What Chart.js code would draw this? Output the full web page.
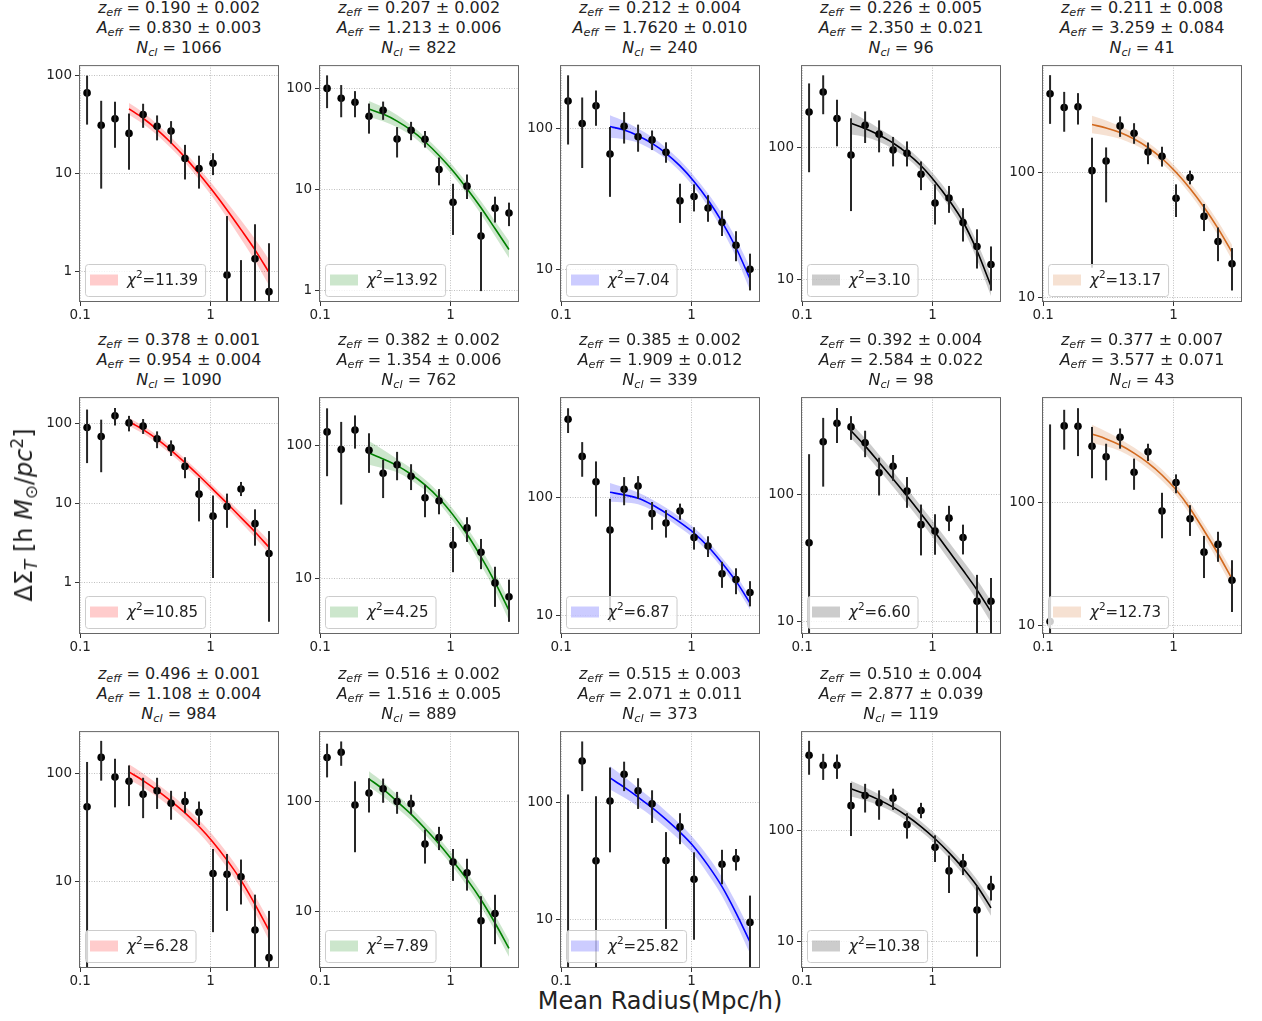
<!DOCTYPE html>
<html>
<head>
<meta charset="utf-8">
<title>Stacked lensing profiles</title>
<script src="https://cdn.jsdelivr.net/npm/chart.js@4.4.0/dist/chart.umd.min.js"></script>
<style>
  body { margin: 0; background: #fff; font-family: "DejaVu Sans", sans-serif; color: #222; }
  #fig { position: relative; width: 1262px; height: 1021px; overflow: hidden; }
  #fig canvas { position: absolute; }
  .title { position: absolute; width: 200px; text-align: center; font-size: 16px; line-height: 20px; white-space: nowrap; }
  .title sub, .ylab sub { font-size: 70%; vertical-align: -0.3em; line-height: 0; }
  .ylab sup { font-size: 70%; vertical-align: 0.55em; line-height: 0; }
  .xlab { position: absolute; left: 460px; width: 400px; top: 986px; text-align: center; font-size: 24px; line-height: 30px; }
  .ylab { position: absolute; left: 24px; top: 515px; font-size: 24px; white-space: nowrap; transform: translate(-50%, -50%) rotate(-90deg); z-index: 2; }
</style>
</head>
<body>
<div id="fig">
  <div class="ylab">ΔΣ<sub><i>T</i></sub> [h <i>M</i><sub>⊙</sub>/<i>pc</i><sup>2</sup>]</div>
  <div class="xlab">Mean Radius(Mpc/h)</div>
</div>
<script>
// radial bins (Mpc/h), shared by every panel
const radius = [0.113, 0.145, 0.185, 0.237, 0.304, 0.389, 0.498, 0.637, 0.816, 1.045, 1.338, 1.713, 2.193, 2.807];
// the fitted profile is only evaluated from the 4th bin outwards
const fitRadius = radius.slice(3);

const xTicks = [0.1, 1];
const yTicks = [1, 10, 100];

const zEff = ['0.190 ± 0.002', '0.207 ± 0.002', '0.212 ± 0.004', '0.226 ± 0.005', '0.211 ± 0.008',
              '0.378 ± 0.001', '0.382 ± 0.002', '0.385 ± 0.002', '0.392 ± 0.004', '0.377 ± 0.007',
              '0.496 ± 0.001', '0.516 ± 0.002', '0.515 ± 0.003', '0.510 ± 0.004'];
const aEff = ['0.830 ± 0.003', '1.213 ± 0.006', '1.7620 ± 0.010', '2.350 ± 0.021', '3.259 ± 0.084',
              '0.954 ± 0.004', '1.354 ± 0.006', '1.909 ± 0.012', '2.584 ± 0.022', '3.577 ± 0.071',
              '1.108 ± 0.004', '1.516 ± 0.005', '2.071 ± 0.011', '2.877 ± 0.039'];
const nCl = [1066, 822, 240, 96, 41, 1090, 762, 339, 98, 43, 984, 889, 373, 119];
const chi2 = ['11.39', '13.92', '7.04', '3.10', '13.17', '10.85', '4.25', '6.87', '6.60', '12.73', '6.28', '7.89', '25.82', '10.38'];

const yMin = [0.494, 0.764, 5.86, 6.82, 9.14, 0.228, 3.84, 6.92, 8.0, 8.53, 1.58, 3.11, 3.85, 5.75];
const yMax = [128, 172, 280, 418, 721, 215, 232, 720, 589, 730, 245, 433, 407, 778];

// measured Delta Sigma per bin; null = point falls below zero
const sigma = [
  [66.7, 31.2, 36.4, 25.8, 40.2, 30.5, 27.2, 14.3, 11.3, 12.8, 0.93, null, 1.36, 0.63],
  [101, 80.5, 73.6, 53.4, 61.1, 31.8, 38.7, 31.6, 15.8, 7.46, 10.8, 3.46, 6.53, 5.84],
  [156, 108, 144, 65.6, 103, 87, 82.6, 67.5, 30.6, 32.8, 27.2, 21.5, 14.8, 10.0],
  [185, 262, 165, 87.7, 147, 126, 95.6, 90.3, 62.8, 38.1, 41.5, 27.1, 17.9, 13.1],
  [425, 330, 334, 103, 123, 235, 205, 145, 134, 61.8, 90.8, 44.3, 27.9, 18.5],
  [89.4, 68.7, 125, 102, 92.8, 64.4, 49.5, 29, 13, 6.88, 9.1, 15.1, 5.54, 2.34],
  [127, 93.5, 131, 92.5, 62.1, 71.8, 59, 40.6, 38.6, 17.9, 24.1, 15.8, 9.3, 7.31],
  [467, 225, 137, 53.1, 118, 126, 73.3, 61, 77.1, 45.8, 38.9, 22.5, 20.1, 15.6],
  [41.9, 262, 366, 343, 257, 149, 168, 107, 58.2, 51.8, 65.5, 46, 14.5, 14.5],
  [10.8, 425, 422, 290, 238, 343, 178, 261, 85.9, 147, 74.3, 39.7, 45.9, 23.4],
  [48.9, 140, 92, 84.1, 63.7, 68.7, 52.8, 54.7, 43.5, 11.8, 11.6, 11.0, 3.55, 1.97],
  [250, 279, 92.8, 119, 130, 100, 95.4, 41.1, 47.1, 28.3, 22.6, 8.32, 9.66, null],
  [null, 226, 31.7, 103, 174, 126, 97.5, 31.9, 61.8, 22.1, null, 29.6, 33.0, 9.44],
  [472, 383, 383, 166, 205, 176, 194, 112, 150, 70, 43, 49.9, 19.1, 30.9]
];
// lower / upper end of each error bar; null low = bar runs off the bottom
const sigmaLow = [
  [31.7, 7.06, 18.4, 11.0, 29.4, 21.9, 20.3, 8.75, 7.06, 9.7, null, null, null, null],
  [64.3, 52.2, 52.2, 35.9, 49.2, 20.8, 30.9, 26.1, 11.0, 3.54, 8.05, 0.98, 4.7, 4.33],
  [76.6, 52.2, 104, 32.6, 77.8, 68.1, 70.0, 56.9, 21.3, 25.7, 21.7, 17.2, 11.4, 7.08],
  [65, 178, 102, 33.1, 108, 91.8, 71.9, 71.9, 47.6, 26.2, 32.1, 19.5, 12.2, 8.3],
  [244, 211, 241, 17.2, 57.4, 192, 169, 116, 111, 43.8, 80, 33.8, 19.4, 11.3],
  [31.9, 24.5, 94.6, 79.8, 74.1, 49.1, 39.2, 20.6, 5.91, 1.15, 4.91, 12.3, 2.93, 0.325],
  [59, 36.1, 95.1, 62.5, 40.4, 55.0, 46.4, 29.0, 30.5, 11.2, 18.9, 11.8, 6.14, 4.74],
  [356, 151, 69.2, 8.8, 86.4, 98.1, 53.4, 45.8, 65.0, 36.2, 31.3, 17.1, 15.1, 11.9],
  [null, 116, 256, 271, 198, 98.8, 129, 79, 33.3, 33.7, 51.8, 33.9, null, null],
  [null, 272, 241, 159, 153, 277, 128, 220, 51.5, 120, 53.8, 24.4, 33.1, 12.9],
  [null, 85.3, 48.3, 49.6, 38.4, 46.7, 37.1, 42.7, 33.2, 3.39, 5.33, 6.11, null, null],
  [165, 210, 34.7, 79.4, 97.3, 77.3, 76.7, 27.4, 36.3, 19.1, 15.6, null, 5.11, null],
  [null, 125, null, 37.5, 125, 88, 66.8, 8.3, 44.0, 6.71, null, 20.0, 26.2, null],
  [315, 283, 289, 88.5, 144, 124, 152, 83.9, 128, 51.7, 27.2, 39.4, 7.28, 23.3]
];
const sigmaHigh = [
  [100, 55.4, 54.2, 41.1, 51.7, 39.3, 34.4, 19.7, 15.3, 16.2, 3.71, 1.32, 3.06, 1.96],
  [136, 109, 94.9, 71.4, 74.7, 41.7, 47.0, 38.1, 20.8, 11.4, 14.1, 5.97, 8.49, 7.41],
  [237, 165, 185, 102, 130, 106, 96.3, 79.4, 40.4, 40.0, 33.5, 26.1, 18.6, 12.9],
  [304, 350, 229, 166, 187, 160, 120, 111, 78.4, 52.7, 51.2, 34.8, 24.1, 17.9],
  [599, 440, 430, 189, 158, 280, 247, 173, 160, 80, 103, 55.7, 36.1, 24.7],
  [150, 112, 157, 125, 114, 79.8, 61.5, 37.8, 20.8, 12.5, 13.2, 18.5, 8.38, 4.47],
  [191, 151, 169, 124, 78.2, 89.9, 72.6, 50.8, 47.2, 24.5, 29.0, 19.9, 12.3, 9.84],
  [579, 298, 204, 98.1, 150, 153, 92.1, 78.5, 89.2, 56.1, 47.0, 28.5, 25.1, 19.5],
  [209, 404, 483, 417, 320, 196, 206, 138, 83.8, 70.3, 81.9, 58.2, 23.4, 22.1],
  [437, 575, 593, 417, 304, 405, 230, 304, 121, 171, 95.9, 53.8, 58.2, 34.1],
  [127, 199, 136, 118, 90.7, 90.7, 68.7, 67.3, 54.7, 19.9, 17.9, 15.9, 7.53, 5.33],
  [333, 349, 152, 162, 161, 122, 115, 55.7, 58.9, 37.1, 30.3, 13.9, 14.3, null],
  [117, 332, 113, 199, 223, 161, 127, 55.8, 80.9, 37.5, null, 39.4, 40.0, 16.0],
  [636, 486, 479, 266, 261, 228, 236, 142, 176, 89.8, 59.1, 61.1, 31.7, 38.8]
];

// best-fit profile and its 1-sigma envelope on fitRadius
const fitModel = [
  [45.8, 36.8, 28.2, 20.7, 14.7, 10.0, 6.62, 4.28, 2.70, 1.68, 0.99],
  [63.0, 56.1, 47.8, 38.8, 29.8, 21.8, 15.3, 10.2, 6.6, 4.1, 2.54],
  [102.8, 97.0, 88.5, 78.0, 66.4, 54.0, 41.9, 31.0, 21.7, 14.2, 8.55],
  [152, 139, 124, 108, 90.6, 72.8, 55.2, 40.0, 27.5, 16.6, 9.0],
  [241, 226.5, 208, 184.5, 157.8, 128.8, 100, 74.1, 52.5, 35.5, 22.9],
  [105.7, 83.9, 63.7, 46.1, 32.3, 22.1, 14.9, 9.98, 6.59, 4.36, 2.8],
  [88.3, 79.4, 70.8, 61.0, 50.7, 40.3, 30.2, 21.6, 14.6, 9.44, 5.78],
  [111.4, 105.9, 98.9, 87.1, 74.1, 61.7, 50.1, 38.5, 27.9, 19.5, 12.7],
  [320, 243, 180, 133, 97.7, 70.8, 50.7, 35.9, 25.4, 17.8, 12.0],
  [365, 333, 297, 255, 212, 169, 128, 90.2, 59.6, 38.5, 24.0],
  [102.8, 85.5, 69.5, 55.2, 42.9, 32.1, 23.0, 15.7, 10.2, 6.12, 3.51],
  [160, 129, 100, 76.7, 56.9, 41.2, 28.8, 19.7, 12.9, 7.94, 4.68],
  [162, 135, 111, 90.2, 71.6, 55.6, 41.7, 29.0, 19.1, 11.4, 6.43],
  [235.5, 212.3, 187.1, 161.1, 134, 107.6, 83.6, 62.7, 45.4, 31.4, 20.0]
];
const fitLow = [
  [39.9, 32.2, 24.8, 18.2, 13.0, 8.75, 5.70, 3.56, 2.17, 1.30, 0.73],
  [52.4, 47.7, 41.6, 34.6, 26.6, 19.4, 13.6, 8.99, 5.68, 3.45, 2.09],
  [85.5, 83.5, 78.9, 70.3, 60.6, 49.3, 38.2, 28.0, 19.1, 12.2, 7.11],
  [125, 119.7, 110.5, 97.4, 82.7, 66.4, 49.8, 35.7, 24.2, 14.3, 7.57],
  [205, 197.3, 185.4, 166.4, 144, 117.5, 91.2, 66.8, 46.8, 31.3, 19.9],
  [94.2, 74.8, 56.8, 41.1, 28.8, 19.7, 13.3, 8.79, 5.74, 3.71, 2.33],
  [71.8, 67.6, 63.1, 55.0, 46.3, 36.8, 27.2, 19.3, 12.7, 8.13, 4.86],
  [92.7, 91.2, 88.1, 78.5, 66.8, 55.6, 45.2, 34.7, 25.2, 17.4, 11.2],
  [279, 212, 157, 116, 85.1, 61.7, 43.7, 30.6, 21.4, 14.8, 9.87],
  [307, 290, 265, 230, 191, 152, 115, 80.4, 52.5, 33.5, 20.7],
  [87.5, 73.6, 60.5, 48.1, 37.4, 28.0, 19.8, 13.4, 8.58, 5.09, 2.85],
  [136, 111, 87.1, 67.6, 50.1, 36.3, 25.4, 17.2, 11.1, 6.76, 3.94],
  [129, 110, 92.3, 75.9, 60.9, 47.3, 35.5, 24.4, 15.9, 9.27, 5.11],
  [200.4, 184.9, 166.8, 145.3, 120.8, 97.0, 75.4, 55.9, 40.0, 27.4, 17.0]
];
const fitHigh = [
  [52.6, 42.1, 32.1, 23.5, 16.7, 11.4, 7.69, 5.14, 3.36, 2.16, 1.34],
  [75.7, 65.9, 54.9, 43.5, 33.4, 24.5, 17.2, 11.6, 7.66, 4.87, 3.09],
  [123.6, 112.6, 99.3, 86.5, 72.8, 59.2, 45.9, 34.4, 24.6, 16.5, 10.3],
  [184.8, 161.4, 139.1, 119.8, 99.3, 79.8, 61.2, 44.9, 31.2, 19.3, 10.7],
  [283, 260, 233, 204.6, 173, 141.2, 109.6, 82.2, 58.9, 40.3, 26.3],
  [118.6, 94.1, 71.5, 51.7, 36.2, 24.8, 16.7, 11.3, 7.57, 5.12, 3.37],
  [108.6, 93.3, 79.4, 67.6, 55.6, 44.2, 33.5, 24.2, 16.8, 11.0, 6.87],
  [133.9, 122.9, 111.0, 96.6, 82.2, 68.4, 55.6, 42.7, 30.9, 21.9, 14.4],
  [367, 279, 207, 153, 112, 81.3, 58.9, 42.2, 30.2, 21.4, 14.6],
  [434, 382, 333, 283, 235, 187, 142, 101, 67.6, 44.2, 27.9],
  [120.8, 99.3, 79.8, 63.4, 49.2, 36.9, 26.7, 18.4, 12.1, 7.36, 4.32],
  [188, 150, 115, 87.1, 64.6, 46.8, 32.7, 22.6, 15.0, 9.33, 5.56],
  [204, 166, 133, 107, 84.1, 65.3, 49.0, 34.5, 23.0, 14.0, 8.1],
  [276.7, 243.7, 209.9, 178.7, 148.6, 119.3, 92.7, 70.3, 51.5, 36.0, 23.5]
];

// one colour per richness column
const lineColors = ['#ff0000', '#008000', '#0000ff', '#000000', '#d2691e'];
const bandColors = ['rgba(255,0,0,0.2)', 'rgba(0,128,0,0.2)', 'rgba(0,0,255,0.2)', 'rgba(0,0,0,0.2)', 'rgba(210,105,30,0.2)'];

// grid geometry
const colLeft = [79, 319, 560, 801, 1042];
const rowTop = [60, 392, 726];
const plotW = 200, plotH = 242;
const padL = 50, padT = 6, padR = 12, padB = 26;

Chart.defaults.font.family = '"DejaVu Sans", sans-serif';

// error bars, frame and the chi^2 legend box
const panelDecor = {
  id: 'panelDecor',
  afterDatasetsDraw(chart, args, opts) {
    const { ctx, chartArea: a, scales: { x, y } } = chart;
    const k = opts.panel;

    ctx.save();
    ctx.beginPath();
    ctx.rect(a.left, a.top, a.width, a.height);
    ctx.clip();
    ctx.strokeStyle = '#262626';
    ctx.lineWidth = 2;
    radius.forEach((r, i) => {
      const hi = sigmaHigh[k][i];
      if (hi == null) return;
      const lo = sigmaLow[k][i];
      const px = x.getPixelForValue(r);
      const yTop = y.getPixelForValue(hi);
      const yBot = lo == null ? a.bottom + 2 : y.getPixelForValue(lo);
      ctx.beginPath();
      ctx.moveTo(px, yBot);
      ctx.lineTo(px, yTop);
      ctx.stroke();
    });
    ctx.restore();

    ctx.save();
    ctx.strokeStyle = '#666';
    ctx.lineWidth = 1;
    ctx.strokeRect(a.left + 0.5, a.top + 0.5, a.width - 1, a.height - 1);

    // legend
    const font = '15px "DejaVu Sans"';
    ctx.font = 'italic ' + font;
    const wChi = ctx.measureText('χ').width;
    ctx.font = '10.5px "DejaVu Sans"';
    const wSup = ctx.measureText('2').width;
    ctx.font = font;
    const valText = '=' + chi2[k];
    const wVal = ctx.measureText(valText).width;
    const bh = 32;
    const bw = 5 + 28 + 9 + wChi + wSup + wVal + 7;
    const bx = a.left + 6;
    const by = a.bottom - 6 - bh;
    ctx.beginPath();
    ctx.roundRect(bx + 0.5, by + 0.5, bw, bh, 3);
    ctx.fillStyle = 'rgba(255,255,255,0.8)';
    ctx.fill();
    ctx.strokeStyle = '#cccccc';
    ctx.stroke();
    ctx.fillStyle = bandColors[opts.col];
    ctx.fillRect(bx + 5, by + bh / 2 - 5.5, 28, 11);
    ctx.fillStyle = '#222';
    ctx.textBaseline = 'middle';
    let tx = bx + 5 + 28 + 9;
    const ty = by + bh / 2 + 1;
    ctx.font = 'italic ' + font;
    ctx.fillText('χ', tx, ty);
    tx += wChi;
    ctx.font = '10.5px "DejaVu Sans"';
    ctx.fillText('2', tx, ty - 6);
    tx += wSup;
    ctx.font = font;
    ctx.fillText(valText, tx, ty);
    ctx.restore();
  }
};

const fig = document.getElementById('fig');

zEff.forEach((z, k) => {
  const row = Math.floor(k / 5);
  const col = k % 5;
  const L = colLeft[col];
  const T = rowTop[row];

  const title = document.createElement('div');
  title.className = 'title';
  title.style.left = L + 'px';
  title.style.top = (T - 62) + 'px';
  title.innerHTML = `<i>z<sub>eff</sub></i> = ${z}<br>` +
    `<i>A<sub>eff</sub></i> = ${aEff[k]}<br>` +
    `<i>N<sub>cl</sub></i> = ${nCl[k]}`;
  fig.appendChild(title);

  const cv = document.createElement('canvas');
  cv.width = plotW + padL + padR;
  cv.height = plotH + padT + padB;
  cv.style.left = (L - padL) + 'px';
  cv.style.top = (T - padT) + 'px';
  fig.appendChild(cv);

  const curve = arr => fitRadius.map((r, i) => ({ x: r, y: arr[k][i] }));

  new Chart(cv, {
    type: 'line',
    data: {
      datasets: [
        { data: curve(fitHigh), borderColor: 'transparent', borderWidth: 0, pointRadius: 0,
          backgroundColor: bandColors[col], fill: '+1', cubicInterpolationMode: 'monotone', order: 3 },
        { data: curve(fitLow), borderColor: 'transparent', borderWidth: 0, pointRadius: 0,
          fill: false, cubicInterpolationMode: 'monotone', order: 3 },
        { data: curve(fitModel), borderColor: lineColors[col], borderWidth: 1.6, pointRadius: 0,
          fill: false, cubicInterpolationMode: 'monotone', order: 2 },
        { data: radius.map((r, i) => ({ x: r, y: sigma[k][i] })), showLine: false,
          pointRadius: 3.8, pointBorderWidth: 0, pointBackgroundColor: '#000', order: 1 }
      ]
    },
    options: {
      responsive: false,
      animation: false,
      events: [],
      layout: { padding: { top: padT, right: padR, left: 0, bottom: 0 } },
      plugins: {
        legend: { display: false },
        tooltip: { enabled: false },
        panelDecor: { panel: k, col: col }
      },
      scales: {
        x: {
          type: 'logarithmic',
          min: 0.098,
          max: 3.35,
          afterBuildTicks: s => { s.ticks = xTicks.map(v => ({ value: v })); },
          afterFit: s => { s.height = padB; },
          ticks: { autoSkip: false, maxRotation: 0, padding: 1, color: '#222',
                   font: { size: 13.5 }, callback: v => String(v) },
          grid: { color: '#b0b0b0', lineWidth: 0.8, tickLength: 4, tickColor: '#333', tickWidth: 1 },
          border: { display: false, dash: [1, 1.5] }
        },
        y: {
          type: 'logarithmic',
          min: yMin[k],
          max: yMax[k],
          afterBuildTicks: s => { s.ticks = yTicks.filter(v => v >= s.min && v <= s.max).map(v => ({ value: v })); },
          afterFit: s => { s.width = padL; },
          ticks: { autoSkip: false, padding: 3, color: '#222',
                   font: { size: 13.5 }, callback: v => String(v) },
          grid: { color: '#b0b0b0', lineWidth: 0.8, tickLength: 4, tickColor: '#333', tickWidth: 1 },
          border: { display: false, dash: [1, 1.5] }
        }
      }
    },
    plugins: [panelDecor]
  });
});
</script>
</body>
</html>
